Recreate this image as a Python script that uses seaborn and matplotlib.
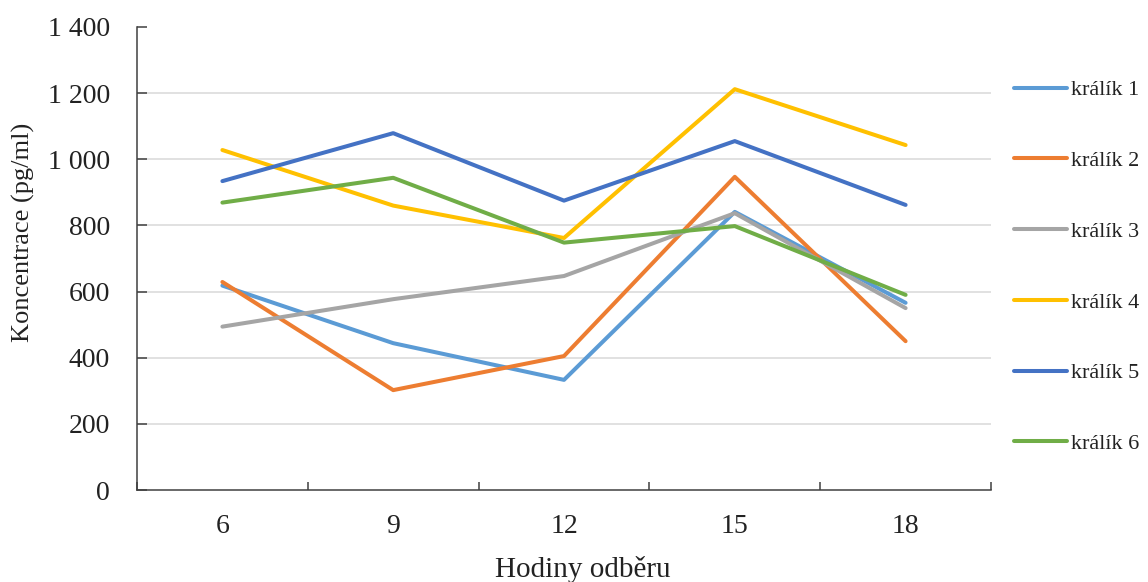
import matplotlib
matplotlib.use("Agg")
import matplotlib.pyplot as plt
from matplotlib.ticker import FixedLocator, FuncFormatter, NullFormatter
import numpy as np
import pandas as pd
import seaborn as sns

# Sampling hours and measured concentrations (pg/ml) per rabbit
hours = [6, 9, 12, 15, 18]
kralik_1 = [618, 444, 333, 841, 566]
kralik_2 = [629, 302, 405, 947, 450]
kralik_3 = [494, 577, 647, 837, 550]
kralik_4 = [1028, 860, 762, 1212, 1043]
kralik_5 = [934, 1079, 875, 1055, 862]
kralik_6 = [869, 944, 748, 798, 590]
labels = ["králík 1", "králík 2", "králík 3", "králík 4", "králík 5", "králík 6"]
colors = ["#5B9BD5", "#ED7D31", "#A5A5A5", "#FFC000", "#4472C4", "#70AD47"]
y_ticks = [0, 200, 400, 600, 800, 1000, 1200, 1400]

series = [kralik_1, kralik_2, kralik_3, kralik_4, kralik_5, kralik_6]
df = pd.DataFrame(
    [(h, v, lab) for lab, vals in zip(labels, series) for h, v in zip(hours, vals)],
    columns=["hodina", "koncentrace", "kralik"],
)

sns.set_theme(style="white")
plt.rcParams["font.family"] = ["Liberation Serif", "DejaVu Serif"]

fig = plt.figure(figsize=(11.48, 5.82), dpi=100)
ax = fig.add_axes([137 / 1148, 1 - 490 / 582, (991 - 137) / 1148, (490 - 27) / 582])

sns.lineplot(data=df, x="hodina", y="koncentrace", hue="kralik",
             hue_order=labels, palette=colors, linewidth=2.9, ax=ax,
             legend=False, solid_capstyle="round")

# Axis ranges: categories are centred between boundary ticks
step = hours[1] - hours[0]
ax.set_xlim(hours[0] - step / 2, hours[-1] + step / 2)
ax.set_ylim(0, 1400)

# Horizontal gridlines
for v in y_ticks[1:-1]:
    ax.axhline(v, color="#D9D9D9", lw=1.1, zorder=0)

# Spines
for s in ["top", "right"]:
    ax.spines[s].set_visible(False)
for s in ["left", "bottom"]:
    ax.spines[s].set_color("#404040")
    ax.spines[s].set_linewidth(1.1)

# Y ticks with space as thousands separator
ax.yaxis.set_major_locator(FixedLocator(y_ticks))
ax.yaxis.set_major_formatter(FuncFormatter(lambda v, p: f"{v:,.0f}".replace(",", " ")))
ax.tick_params(axis="y", which="major", direction="in", length=7, width=1.1,
               color="#404040", pad=19.5, labelsize=20, labelcolor="#222222", left=True)

# X: boundary ticks without labels, category labels on minor ticks
bounds = [hours[0] - step / 2 + i * step for i in range(len(hours) + 1)]
ax.xaxis.set_major_locator(FixedLocator(bounds))
ax.xaxis.set_major_formatter(NullFormatter())
ax.xaxis.set_minor_locator(FixedLocator(hours))
ax.xaxis.set_minor_formatter(FuncFormatter(lambda v, p: f"{int(v)}"))
ax.tick_params(axis="x", which="major", direction="in", length=6, width=1.1,
               color="#404040", bottom=True)
ax.tick_params(axis="x", which="minor", length=0, pad=17, labelsize=20,
               labelcolor="#222222", bottom=True)

ax.set_xlabel("")
ax.set_ylabel("")
fig.text(23 / 1148, 1 - 232 / 582, "Koncentrace (pg/ml)", rotation=90,
         ha="center", va="center", fontsize=19, color="#222222")
fig.text(583 / 1148, 5 / 582, "Hodiny odběru", ha="center", va="baseline",
         fontsize=21, color="#222222")

# Legend on the right
handles = [plt.Line2D([], [], color=c, lw=2.9, solid_capstyle="round") for c in colors]
fig.legend(handles, labels, loc="center left", bbox_to_anchor=(1014 / 1148, 1 - 267 / 582),
           frameon=False, fontsize=16, handlelength=2.4, handletextpad=0.18,
           labelspacing=2.26, borderpad=0, borderaxespad=0, labelcolor="#222222")

fig.savefig("out.png", dpi=100)
